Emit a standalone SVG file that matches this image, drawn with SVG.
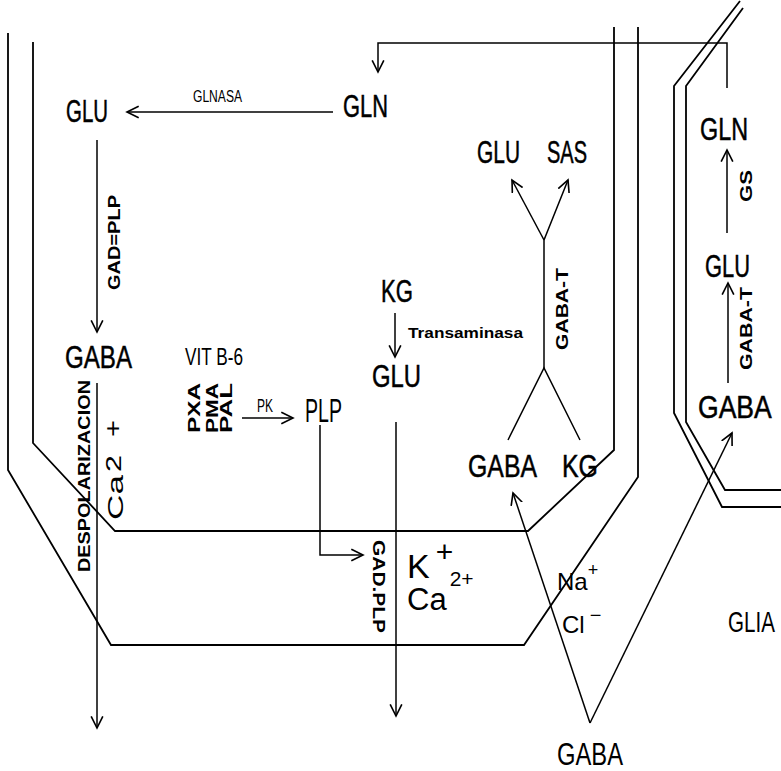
<svg xmlns="http://www.w3.org/2000/svg" width="781" height="771" viewBox="0 0 781 771">
<style>
text{font-family:"Liberation Sans",Arial,sans-serif;fill:#000}
.big{font-size:32px;stroke:#000;stroke-width:0.5}
.bold{font-weight:bold}
.mem{fill:none;stroke:#000;stroke-width:1.8}
.con{fill:none;stroke:#000;stroke-width:1.5}
</style>
<defs>
<marker id="ah" markerUnits="userSpaceOnUse" markerWidth="14" markerHeight="14" refX="10" refY="5" orient="auto" viewBox="0 0 12 10">
<path d="M0,0 L10,5 L0,10" fill="none" stroke="#000" stroke-width="1.4"/>
</marker>
</defs>
<rect width="781" height="771" fill="#fff"/>
<g id="membranes">
<path class="mem" d="M8,33 V470 L111,645 H524 L638,477 V27"/>
<path class="mem" d="M33,42 V443 L115,531 H528 L614,450 V27"/>
<path class="mem" d="M740,1 L674,86 V413 L722,507 H781"/>
<path class="mem" d="M743,8 L686,86 V422 L725,490 H781"/>
</g>
<g id="connectors">
<path class="con" d="M727,88 V43 H378 V72" marker-end="url(#ah)"/>
<path class="con" d="M333,112 H127" marker-end="url(#ah)"/>
<path class="con" d="M97,140 V332" marker-end="url(#ah)"/>
<path class="con" d="M97,383 V728" marker-end="url(#ah)"/>
<path class="con" d="M242,418 H293" marker-end="url(#ah)"/>
<path class="con" d="M320,425 V555 H363" marker-end="url(#ah)"/>
<path class="con" d="M395,313 V357" marker-end="url(#ah)"/>
<path class="con" d="M396,422 V716" marker-end="url(#ah)"/>
<path class="con" d="M544,368 V240"/>
<path class="con" d="M544,240 L512,180" marker-end="url(#ah)"/>
<path class="con" d="M544,240 L568,180" marker-end="url(#ah)"/>
<path class="con" d="M508,440 L544,368 L580,440"/>
<path class="con" d="M590,723 L513,493" marker-end="url(#ah)"/>
<path class="con" d="M590,723 L732,433" marker-end="url(#ah)"/>
<path class="con" d="M727,233 V150" marker-end="url(#ah)"/>
<path class="con" d="M728,383 V283" marker-end="url(#ah)"/>
</g>
<g id="n-gln-neuron"><text class="big" x="343" y="117" textLength="45" lengthAdjust="spacingAndGlyphs">GLN</text></g>
<g id="n-glu-neuron"><text class="big" x="66" y="122" textLength="42" lengthAdjust="spacingAndGlyphs">GLU</text></g>
<g id="l-glnasa"><text x="193" y="102" font-size="16" textLength="49" lengthAdjust="spacingAndGlyphs">GLNASA</text></g>
<g id="l-gadplp"><text class="bold" font-size="17" transform="translate(120,290) rotate(-90)" textLength="95" lengthAdjust="spacingAndGlyphs">GAD=PLP</text></g>
<g id="n-gaba-neuron"><text class="big" font-size="30" x="65" y="368" textLength="67" lengthAdjust="spacingAndGlyphs">GABA</text></g>
<g id="n-vitb6"><text font-size="24" x="185" y="365" textLength="58" lengthAdjust="spacingAndGlyphs">VIT B-6</text></g>
<g id="n-pxa">
<text class="bold" font-size="16" transform="translate(200,433) rotate(-90)" textLength="50" lengthAdjust="spacingAndGlyphs">PXA</text>
<text class="bold" font-size="16" transform="translate(218,433) rotate(-90)" textLength="50" lengthAdjust="spacingAndGlyphs">PMA</text>
<text class="bold" font-size="16" transform="translate(232,433) rotate(-90)" textLength="50" lengthAdjust="spacingAndGlyphs">PAL</text>
</g>
<g id="l-pk"><text font-size="18" x="257" y="412" textLength="16" lengthAdjust="spacingAndGlyphs">PK</text></g>
<g id="n-plp"><text font-size="33" x="305" y="422" textLength="37" lengthAdjust="spacingAndGlyphs">PLP</text></g>
<g id="l-despol"><text class="bold" font-size="17" transform="translate(90,572) rotate(-90)" textLength="192" lengthAdjust="spacingAndGlyphs">DESPOLARIZACION</text></g>
<g id="l-ca-left">
<text font-size="22" transform="translate(123,520) rotate(-90)" textLength="45" lengthAdjust="spacingAndGlyphs">Ca</text>
<text font-size="22" transform="translate(121,472) rotate(-90)" textLength="17" lengthAdjust="spacingAndGlyphs">2</text>
<text font-size="24" transform="translate(121,437) rotate(-90)" textLength="17" lengthAdjust="spacingAndGlyphs">+</text>
</g>
<g id="n-kg-mid"><text class="big" x="381" y="302" textLength="32" lengthAdjust="spacingAndGlyphs">KG</text></g>
<g id="l-transaminasa"><text class="bold" font-size="15" x="408" y="338" textLength="115" lengthAdjust="spacingAndGlyphs">Transaminasa</text></g>
<g id="n-glu-mid"><text class="big" x="372" y="387" textLength="49" lengthAdjust="spacingAndGlyphs">GLU</text></g>
<g id="n-glu-top"><text class="big" x="477" y="163" textLength="43" lengthAdjust="spacingAndGlyphs">GLU</text></g>
<g id="n-sas"><text class="big" x="547" y="163" textLength="40" lengthAdjust="spacingAndGlyphs">SAS</text></g>
<g id="l-gabat"><text class="bold" font-size="17" transform="translate(568,350) rotate(-90)" textLength="82" lengthAdjust="spacingAndGlyphs">GABA-T</text></g>
<g id="n-gaba-mid"><text class="big" x="468" y="477" textLength="69" lengthAdjust="spacingAndGlyphs">GABA</text></g>
<g id="n-kg-low"><text class="big" x="562" y="477" textLength="36" lengthAdjust="spacingAndGlyphs">KG</text></g>
<g id="l-gadplp2"><text class="bold" font-size="16" transform="translate(373,540) rotate(90)" textLength="93" lengthAdjust="spacingAndGlyphs">GAD.PLP</text></g>
<g id="n-ions">
<text font-size="34" x="407" y="578">K<tspan font-size="30" dx="6" dy="-16">+</tspan></text>
<text font-size="31" x="407" y="610">Ca<tspan font-size="21" dx="3" dy="-24">2+</tspan></text>
</g>
<g id="n-nacl">
<text font-size="24" x="557" y="590">Na<tspan font-size="18" dy="-14">+</tspan></text>
<text font-size="24" x="562" y="633">Cl<tspan font-size="20" dx="5" dy="-11">−</tspan></text>
</g>
<g id="n-gln-glia"><text class="big" x="700" y="140" textLength="48" lengthAdjust="spacingAndGlyphs">GLN</text></g>
<g id="l-gs"><text class="bold" font-size="17" transform="translate(752,202) rotate(-90)" textLength="32" lengthAdjust="spacingAndGlyphs">GS</text></g>
<g id="n-glu-glia"><text class="big" x="705" y="277" textLength="45" lengthAdjust="spacingAndGlyphs">GLU</text></g>
<g id="l-gabat-glia"><text class="bold" font-size="16" transform="translate(752,370) rotate(-90)" textLength="83" lengthAdjust="spacingAndGlyphs">GABA-T</text></g>
<g id="n-gaba-glia"><text class="big" font-size="30" transform="translate(698,418) scale(0.83,1)">GABA</text></g>
<g id="n-glia"><text font-size="29" transform="translate(728,632) scale(0.71,1)">GLIA</text></g>
<g id="n-gaba-ext"><text font-size="32" x="557" y="765" textLength="66" lengthAdjust="spacingAndGlyphs">GABA</text></g>
</svg>
